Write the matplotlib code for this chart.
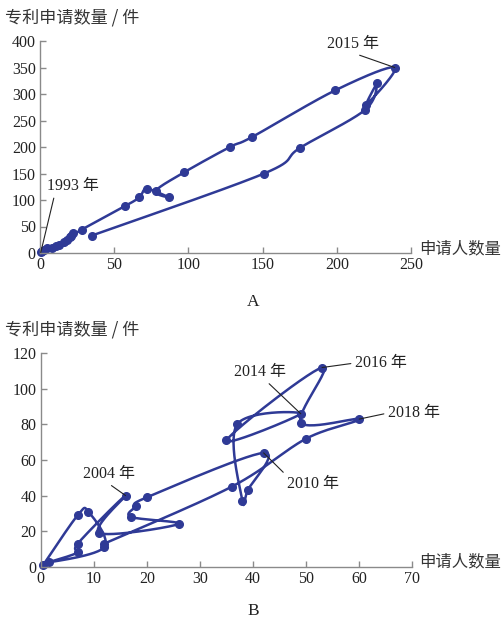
import numpy as np
import matplotlib
matplotlib.use("Agg")
import matplotlib.pyplot as plt

# ---------------- data ----------------
# Chart A: applicants (x) vs patent applications (y), yearly trajectory from 1993
a_applicants = [0.5, 1.5, 3, 5, 8, 11, 13, 16, 18, 20, 22, 21, 28,
                57, 67, 72, 87, 78, 97, 128, 143, 199, 239,
                220, 227, 219, 175, 151, 35]
a_patents = [1, 3, 6, 10, 10, 13, 15, 20, 25, 30, 38, 32, 44,
             88, 105, 121, 105, 117, 152, 200, 219, 307, 350,
             280, 320, 270, 198, 150, 33]

# Chart B: yearly trajectory (1997-2021)
b_applicants = [0.5, 7, 9, 12, 1.6, 7, 7, 16,
                11, 26, 17, 18, 20,
                42, 39, 38, 37, 49, 35, 53, 49, 60, 50, 36, 12]
b_patents = [1, 29, 31, 11, 2.5, 8, 13, 40,
             19, 24, 28, 34, 39,
             64, 43, 37, 80, 86, 71, 112, 81, 83, 72, 45, 13]

a_xticks = [0, 50, 100, 150, 200, 250]
a_yticks = [0, 50, 100, 150, 200, 250, 300, 350, 400]
b_xticks = [0, 10, 20, 30, 40, 50, 60, 70]
b_yticks = [0, 20, 40, 60, 80, 100, 120]

a_notes = [("1993 年", 0), ("2015 年", 22)]
b_notes = [("2004 年", 7), ("2010 年", 13), ("2014 年", 17), ("2016 年", 19), ("2018 年", 21)]

LINE = "#2f3a96"
AXC = "#8a8a8a"
SERIF = ["Liberation Serif", "Noto Sans CJK SC"]
CJK = ["Noto Sans CJK SC", "DejaVu Sans"]

W, H = 502, 622
fig = plt.figure(figsize=(W / 100, H / 100), dpi=100)


def px_axes(left, top, right, bottom):
    return fig.add_axes([left / W, 1 - bottom / H, (right - left) / W, (bottom - top) / H])


def smooth(ax, xs, ys, n=30):
    """Catmull-Rom style smoothing computed in display space (like spreadsheet smoothed lines)."""
    pts = ax.transData.transform(np.column_stack([xs, ys]))
    out = []
    m = len(pts)
    for i in range(m - 1):
        p0 = pts[i - 1] if i > 0 else pts[i]
        p1 = pts[i]
        p2 = pts[i + 1]
        p3 = pts[i + 2] if i + 2 < m else pts[i + 1]
        c1 = p1 + (p2 - p0) / 6.0
        c2 = p2 - (p3 - p1) / 6.0
        t = np.linspace(0, 1, n)[:, None]
        seg = ((1 - t) ** 3) * p1 + 3 * ((1 - t) ** 2) * t * c1 + 3 * (1 - t) * t ** 2 * c2 + t ** 3 * p2
        out.append(seg if i == 0 else seg[1:])
    curve = np.vstack(out)
    return ax.transData.inverted().transform(curve)


def style_axes(ax, xticks, yticks, xmax, ymax):
    ax.set_xlim(0, xmax)
    ax.set_ylim(0, ymax)
    ax.set_xticks(xticks)
    ax.set_yticks(yticks)
    for s in ("top", "right"):
        ax.spines[s].set_visible(False)
    for s in ("left", "bottom"):
        ax.spines[s].set_color(AXC)
        ax.spines[s].set_linewidth(1.0)
    ax.tick_params(direction="in", length=4, width=1, color=AXC, pad=3, labelsize=11.5,
                   labelcolor="#222222")
    for lab in ax.get_xticklabels() + ax.get_yticklabels():
        lab.set_family(SERIF)
    ax.patch.set_alpha(0)


def draw(ax, xs, ys):
    c = smooth(ax, xs, ys)
    ax.plot(c[:, 0], c[:, 1], color=LINE, lw=1.8, solid_capstyle="round", clip_on=False)
    ax.plot(xs, ys, "o", color=LINE, ms=5.5, clip_on=False)


def note(ax, label, xy, txy, rp):
    ax.annotate(label, xy=xy, xytext=(txy[0], H - txy[1]),
                textcoords="figure pixels", family=SERIF, fontsize=11.5, color="#222222",
                ha="left", va="center",
                arrowprops=dict(arrowstyle="-", color="#222222", lw=0.8, shrinkA=1, shrinkB=0,
                                relpos=rp))


# ---------------- chart A ----------------
axA = px_axes(40, 41, 411, 253)
style_axes(axA, a_xticks, a_yticks, 250, 400)
draw(axA, a_applicants, a_patents)
fig.text(5 / W, 1 - 18 / H, "专利申请数量 / 件", family=CJK, fontsize=12.3, color="#333333",
         ha="left", va="center")
fig.text(419 / W, 1 - 249 / H, "申请人数量", family=CJK, fontsize=11.8, color="#333333",
         ha="left", va="center")
fig.text(253 / W, 1 - 302 / H, "A", family=SERIF, fontsize=12.5, color="#222222",
         ha="center", va="center")

a_text_pos = {"1993 年": ((47, 186), (0.15, 0.0)), "2015 年": ((327, 44), (0.45, 0.0))}
for label, idx in a_notes:
    txy, rp = a_text_pos[label]
    note(axA, label, (a_applicants[idx], a_patents[idx]), txy, rp)

# ---------------- chart B ----------------
axB = px_axes(40.6, 353.3, 412.3, 566.7)
style_axes(axB, b_xticks, b_yticks, 70, 120)
draw(axB, b_applicants, b_patents)
fig.text(5 / W, 1 - 330 / H, "专利申请数量 / 件", family=CJK, fontsize=12.3, color="#333333",
         ha="left", va="center")
fig.text(419 / W, 1 - 562 / H, "申请人数量", family=CJK, fontsize=11.8, color="#333333",
         ha="left", va="center")
fig.text(253 / W, 1 - 611 / H, "B", family=SERIF, fontsize=12.5, color="#222222",
         ha="center", va="center")

b_text_pos = {
    "2004 年": ((83, 474), (0.45, 0.0)),
    "2010 年": ((287, 484), (0.0, 1.0)),
    "2014 年": ((234, 372), (0.6, 0.0)),
    "2016 年": ((355, 363), (0.0, 0.5)),
    "2018 年": ((388, 413), (0.0, 0.5)),
}
for label, idx in b_notes:
    txy, rp = b_text_pos[label]
    note(axB, label, (b_applicants[idx], b_patents[idx]), txy, rp)

fig.savefig("out.png", dpi=100)
